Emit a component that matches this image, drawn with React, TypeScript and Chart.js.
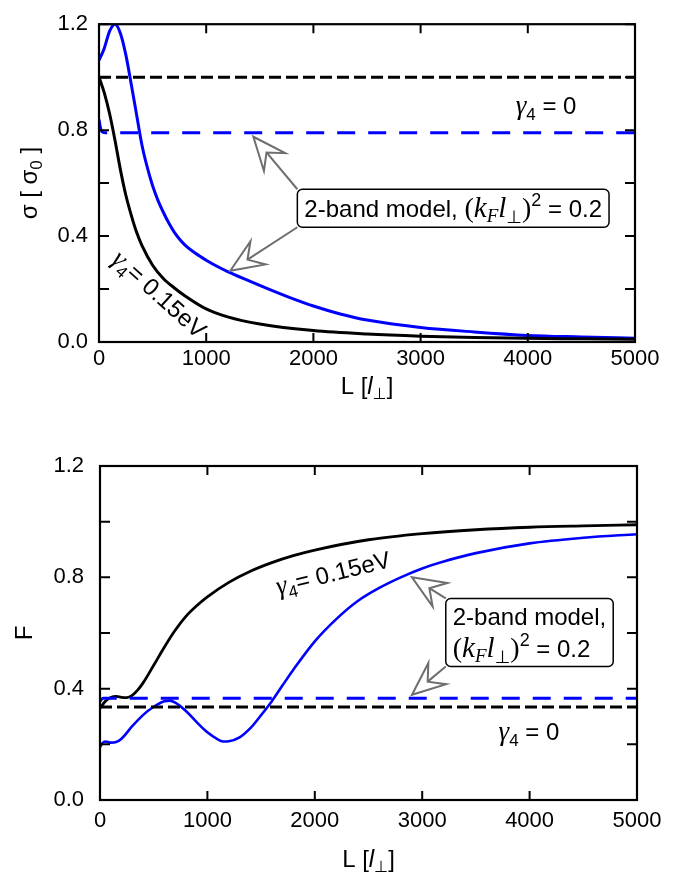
import React, { useEffect, useRef } from "react";
import { Chart, registerables } from "chart.js";
Chart.register(...registerables);

// ---------- data ----------
const xTickValues = [0, 1000, 2000, 3000, 4000, 5000];
const yTickLabels = ["0.0", "0.4", "0.8", "1.2"];

// top panel: conductance sigma [sigma0]
const sigmaBlackL = [0, 50, 100, 150, 200, 250, 300, 350, 400, 500, 600, 700, 800, 1000, 1200, 1500, 2000, 2500, 3000, 3500, 4000, 4500, 5000];
const sigmaBlackV = [1.0, 0.94, 0.86, 0.76, 0.65, 0.555, 0.48, 0.415, 0.365, 0.29, 0.24, 0.205, 0.175, 0.125, 0.095, 0.068, 0.043, 0.03, 0.022, 0.017, 0.014, 0.012, 0.01];
const sigmaBlueL = [0, 25, 50, 100, 150, 200, 250, 300, 350, 400, 450, 500, 550, 600, 650, 700, 750, 800, 900, 1000, 1100, 1200, 1400, 1600, 1800, 2000, 2250, 2500, 3000, 3500, 4000, 4500, 5000];
const sigmaBlueV = [1.065, 1.085, 1.11, 1.175, 1.2, 1.165, 1.085, 0.975, 0.86, 0.745, 0.66, 0.59, 0.535, 0.49, 0.45, 0.416, 0.389, 0.367, 0.335, 0.309, 0.286, 0.266, 0.231, 0.197, 0.165, 0.136, 0.106, 0.083, 0.055, 0.038, 0.025, 0.019, 0.014];
const sigmaBlueDashL = [0, 10, 20, 35, 60, 5000];
const sigmaBlueDashV = [0.84, 0.815, 0.8, 0.792, 0.79, 0.79];
const sigmaBlackDashL = [0, 5000];
const sigmaBlackDashV = [1.0, 1.0];

// bottom panel: Fano factor F
const fBlackL = [0, 50, 100, 150, 200, 250, 300, 350, 400, 500, 600, 700, 800, 900, 1000, 1200, 1400, 1600, 1800, 2000, 2500, 3000, 3500, 4000, 4500, 5000];
const fBlackV = [0.33, 0.355, 0.368, 0.372, 0.369, 0.368, 0.376, 0.395, 0.42, 0.484, 0.55, 0.61, 0.66, 0.698, 0.73, 0.782, 0.822, 0.853, 0.878, 0.898, 0.935, 0.957, 0.971, 0.98, 0.985, 0.989];
const fBlueL = [0, 25, 50, 100, 150, 200, 300, 400, 500, 600, 650, 700, 800, 900, 1000, 1100, 1150, 1200, 1300, 1400, 1500, 1600, 1700, 1800, 2000, 2200, 2400, 2600, 2800, 3000, 3200, 3500, 4000, 4500, 5000];
const fBlueV = [0.19, 0.205, 0.21, 0.206, 0.208, 0.22, 0.265, 0.305, 0.335, 0.355, 0.357, 0.35, 0.32, 0.28, 0.243, 0.217, 0.21, 0.211, 0.225, 0.258, 0.305, 0.355, 0.412, 0.468, 0.57, 0.65, 0.715, 0.762, 0.8, 0.832, 0.857, 0.887, 0.922, 0.942, 0.955];
const fBlueDashL = [0, 15, 30, 5000];
const fBlueDashV = [0.355, 0.362, 0.366, 0.366];
const fBlackDashL = [0, 5000];
const fBlackDashV = [0.334, 0.334];

// ---------- styles ----------
const SANS = '"Liberation Sans", Arial, Helvetica, sans-serif';
const SERIF = '"Liberation Serif", "Times New Roman", serif';
const SYM = '"DejaVu Sans", sans-serif';
const BLUE = "#0000ff";
const GRAY = "#6e6e6e";

type Seg = { t: string; f: string; dy?: number };

const gammaSegs = (rest: string): Seg[] => [
  { t: "γ", f: `italic 27px ${SERIF}` },
  { t: "4", f: `17px ${SANS}`, dy: 6 },
  { t: rest, f: `24px ${SANS}` },
];
const kflSegs: Seg[] = [
  { t: "(", f: `28px ${SERIF}` },
  { t: "k", f: `italic 29px ${SERIF}` },
  { t: "F", f: `italic 19px ${SERIF}`, dy: 5 },
  { t: "l", f: `italic 29px ${SERIF}` },
  { t: "⊥", f: `18px ${SYM}`, dy: 6 },
  { t: ")", f: `28px ${SERIF}` },
  { t: "2", f: `18px ${SANS}`, dy: -11 },
  { t: " = 0.2", f: `24px ${SANS}` },
];
const bandSegs: Seg[] = [{ t: "2-band model, ", f: `24px ${SANS}` }];
const bandSegs2: Seg[] = [{ t: "2-band model,", f: `24px ${SANS}` }];

const xTitleSegs: Seg[] = [
  { t: "L [", f: `24px ${SANS}` },
  { t: "l", f: `italic 24px ${SANS}` },
  { t: "⊥", f: `16px ${SYM}`, dy: 5 },
  { t: "]", f: `24px ${SANS}` },
];
const sigmaTitleSegs: Seg[] = [
  { t: "σ [ σ", f: `24px ${SANS}` },
  { t: "0", f: `17px ${SANS}`, dy: 5 },
  { t: " ]", f: `24px ${SANS}` },
];
const fTitleSegs: Seg[] = [{ t: "F", f: `24px ${SANS}` }];

function zip(xs: number[], ys: number[]) {
  return xs.map((x, i) => ({ x, y: ys[i] }));
}

function segW(ctx: CanvasRenderingContext2D, segs: Seg[]) {
  let w = 0;
  for (const s of segs) {
    ctx.font = s.f;
    w += ctx.measureText(s.t).width;
  }
  return w;
}
function drawSegs(ctx: CanvasRenderingContext2D, segs: Seg[], x: number, y: number) {
  let cx = x;
  for (const s of segs) {
    ctx.font = s.f;
    ctx.fillText(s.t, cx, y + (s.dy || 0));
    cx += ctx.measureText(s.t).width;
  }
}

function drawArrow(ctx: CanvasRenderingContext2D, x0: number, y0: number, x1: number, y1: number) {
  const dx = x1 - x0, dy = y1 - y0;
  const len = Math.hypot(dx, dy);
  const ux = dx / len, uy = dy / len;
  const nx = -uy, ny = ux;
  const hl = Math.min(33, len * 0.85);
  const hw = hl * 0.42;
  const nl = hl * 0.62;
  const bx = x1 - ux * hl, by = y1 - uy * hl;
  const kx = x1 - ux * nl, ky = y1 - uy * nl;
  ctx.save();
  ctx.strokeStyle = GRAY;
  ctx.lineWidth = 2;
  ctx.lineJoin = "miter";
  ctx.beginPath();
  ctx.moveTo(x0, y0);
  ctx.lineTo(kx, ky);
  ctx.stroke();
  ctx.beginPath();
  ctx.moveTo(x1, y1);
  ctx.lineTo(bx + nx * hw, by + ny * hw);
  ctx.lineTo(kx, ky);
  ctx.lineTo(bx - nx * hw, by - ny * hw);
  ctx.closePath();
  ctx.fillStyle = "#fff";
  ctx.fill();
  ctx.stroke();
  ctx.restore();
}

type TextAnn = { kind: "text"; segs: Seg[]; at: [number, number]; rot: number };
type BoxAnn = {
  kind: "box";
  lines: Seg[][];
  at: [number, number];
  lineH: number;
  padX: number;
  padY: number;
  arrows: { from: "tl" | "bl"; to: [number, number] }[];
};
type Ann = TextAnn | BoxAnn;

type Panel = {
  top: number;
  height: number;
  padTop: number;
  padRight: number;
  yAxisW: number;
  xAxisH: number;
  xTickPad: number;
  yTickPad: number;
  xTitleDy: number;
  yTitleX: number;
  yTitle: Seg[];
  datasets: any[];
  anns: Ann[];
};

const panels: Panel[] = [
  {
    top: 0,
    height: 400,
    padTop: 12,
    padRight: 54,
    yAxisW: 99,
    xAxisH: 58,
    xTickPad: 4,
    yTickPad: 11,
    xTitleDy: 43,
    yTitleX: 29,
    yTitle: sigmaTitleSegs,
    datasets: [
      { data: zip(sigmaBlackDashL, sigmaBlackDashV), borderColor: "#000", borderDash: [12, 5], borderWidth: 3 },
      { data: zip(sigmaBlueDashL, sigmaBlueDashV), borderColor: BLUE, borderDash: [18, 13], borderWidth: 3 },
      { data: zip(sigmaBlackL, sigmaBlackV), borderColor: "#000", borderWidth: 3 },
      { data: zip(sigmaBlueL, sigmaBlueV), borderColor: BLUE, borderWidth: 3 },
    ],
    anns: [
      { kind: "text", segs: gammaSegs(" = 0"), at: [4170, 0.89], rot: 0 },
      { kind: "text", segs: gammaSegs("= 0.15eV"), at: [560, 0.18], rot: 42 },
      {
        kind: "box",
        lines: [[...bandSegs, ...kflSegs]],
        at: [3304, 0.505],
        lineH: 26,
        padX: 7,
        padY: 6,
        arrows: [
          { from: "tl", to: [1440, 0.775] },
          { from: "bl", to: [1225, 0.269] },
        ],
      },
    ],
  },
  {
    top: 400,
    height: 476,
    padTop: 66,
    padRight: 52,
    yAxisW: 100,
    xAxisH: 76,
    xTickPad: 8,
    yTickPad: 16,
    xTitleDy: 58,
    yTitleX: 24,
    yTitle: fTitleSegs,
    datasets: [
      { data: zip(fBlackDashL, fBlackDashV), borderColor: "#000", borderDash: [12, 5], borderWidth: 3 },
      { data: zip(fBlueDashL, fBlueDashV), borderColor: BLUE, borderDash: [18, 13], borderWidth: 3 },
      { data: zip(fBlackL, fBlackV), borderColor: "#000", borderWidth: 2.8 },
      { data: zip(fBlueL, fBlueV), borderColor: BLUE, borderWidth: 2.6 },
    ],
    anns: [
      { kind: "text", segs: gammaSegs(" = 0"), at: [3994, 0.244], rot: 0 },
      { kind: "text", segs: gammaSegs("= 0.15eV"), at: [2170, 0.815], rot: -14 },
      {
        kind: "box",
        lines: [bandSegs2, kflSegs],
        at: [3999, 0.602],
        lineH: 32,
        padX: 7,
        padY: 2,
        arrows: [
          { from: "tl", to: [2905, 0.8] },
          { from: "bl", to: [2905, 0.378] },
        ],
      },
    ],
  },
];

function makePlugin(p: Panel) {
  return {
    id: "frameAndNotes",
    afterDatasetsDraw(chart: any) {
      const { ctx, chartArea: a, scales } = chart;
      const xs = scales.x, ys = scales.y;
      ctx.save();
      ctx.strokeStyle = "#000";
      ctx.lineWidth = 2;
      ctx.lineCap = "butt";
      ctx.beginPath();
      for (const t of xs.ticks) {
        const px = xs.getPixelForValue(t.value);
        ctx.moveTo(px, a.bottom);
        ctx.lineTo(px, a.bottom - 9);
        ctx.moveTo(px, a.top);
        ctx.lineTo(px, a.top + 9);
      }
      for (const t of ys.ticks) {
        const py = ys.getPixelForValue(t.value);
        ctx.moveTo(a.left, py);
        ctx.lineTo(a.left + 10, py);
        ctx.moveTo(a.right, py);
        ctx.lineTo(a.right - 10, py);
      }
      ctx.stroke();
      ctx.lineWidth = 2.2;
      ctx.strokeRect(a.left, a.top, a.right - a.left, a.bottom - a.top);
      ctx.restore();
    },
    afterDraw(chart: any) {
      const { ctx, chartArea: a, scales } = chart;
      const xs = scales.x, ys = scales.y;
      ctx.save();
      ctx.fillStyle = "#000";
      ctx.textBaseline = "alphabetic";
      ctx.textAlign = "left";
      // axis titles
      const cx = (a.left + a.right) / 2;
      const xw = segW(ctx, xTitleSegs);
      drawSegs(ctx, xTitleSegs, cx - xw / 2, a.bottom + p.xTitleDy + 9);
      ctx.save();
      ctx.translate(p.yTitleX, (a.top + a.bottom) / 2);
      ctx.rotate(-Math.PI / 2);
      const yw = segW(ctx, p.yTitle);
      drawSegs(ctx, p.yTitle, -yw / 2, 8);
      ctx.restore();

      for (const an of p.anns) {
        const px = xs.getPixelForValue(an.at[0]);
        const py = ys.getPixelForValue(an.at[1]);
        if (an.kind === "text") {
          ctx.save();
          ctx.translate(px, py);
          ctx.rotate((an.rot * Math.PI) / 180);
          const w = segW(ctx, an.segs);
          drawSegs(ctx, an.segs, -w / 2, 8);
          ctx.restore();
        } else {
          const w = Math.max(...an.lines.map((l) => segW(ctx, l))) + an.padX * 2;
          const h = an.lines.length * an.lineH + an.padY * 2;
          const left = px - w / 2, top = py - h / 2;
          for (const ar of an.arrows) {
            const tx = xs.getPixelForValue(ar.to[0]);
            const ty = ys.getPixelForValue(ar.to[1]);
            drawArrow(ctx, left, ar.from === "tl" ? top : top + h, tx, ty);
          }
          ctx.beginPath();
          (ctx as any).roundRect(left, top, w, h, 5);
          ctx.fillStyle = "#fff";
          ctx.fill();
          ctx.strokeStyle = "#000";
          ctx.lineWidth = 1.5;
          ctx.stroke();
          ctx.fillStyle = "#000";
          an.lines.forEach((l, i) => {
            drawSegs(ctx, l, left + an.padX, top + an.padY + an.lineH * i + (an.lineH + 17) / 2);
          });
        }
      }
      ctx.restore();
    },
  };
}

function PanelChart({ p }: { p: Panel }) {
  const ref = useRef<HTMLCanvasElement | null>(null);
  useEffect(() => {
    if (!ref.current) return;
    const chart = new Chart(ref.current, {
      type: "line",
      data: {
        datasets: p.datasets.map((d) => ({
          ...d,
          pointRadius: 0,
          fill: false,
          cubicInterpolationMode: "monotone",
          borderCapStyle: "butt",
        })),
      },
      options: {
        responsive: false,
        animation: false,
        events: [],
        layout: { padding: { top: p.padTop, right: p.padRight, left: 0, bottom: 0 } },
        plugins: { legend: { display: false }, tooltip: { enabled: false } },
        scales: {
          x: {
            type: "linear",
            min: 0,
            max: 5000,
            afterBuildTicks: (s: any) => {
              s.ticks = xTickValues.map((v) => ({ value: v }));
            },
            ticks: {
              autoSkip: false,
              maxRotation: 0,
              padding: p.xTickPad,
              color: "#000",
              font: { family: SANS, size: 22 },
              callback: (v: any) => String(v),
            },
            grid: { display: false, drawTicks: false },
            border: { display: false },
            afterFit: (s: any) => {
              s.height = p.xAxisH;
            },
          },
          y: {
            type: "linear",
            min: 0,
            max: 1.2,
            ticks: {
              stepSize: 0.2,
              autoSkip: false,
              padding: p.yTickPad,
              color: "#000",
              font: { family: SANS, size: 22 },
              callback: (v: any) => {
                const s = Number(v).toFixed(1);
                return yTickLabels.includes(s) ? s : "";
              },
            },
            grid: { display: false, drawTicks: false },
            border: { display: false },
            afterFit: (s: any) => {
              s.width = p.yAxisW;
            },
          },
        },
      } as any,
      plugins: [makePlugin(p)],
    });
    return () => chart.destroy();
  }, [p]);
  return (
    <canvas
      ref={ref}
      width={689}
      height={p.height}
      style={{ position: "absolute", left: 0, top: p.top, width: 689, height: p.height }}
    />
  );
}

export default function App() {
  return (
    <div style={{ position: "absolute", left: 0, top: 0, width: 689, height: 876, background: "#fff" }}>
      {panels.map((p, i) => (
        <PanelChart key={i} p={p} />
      ))}
    </div>
  );
}
